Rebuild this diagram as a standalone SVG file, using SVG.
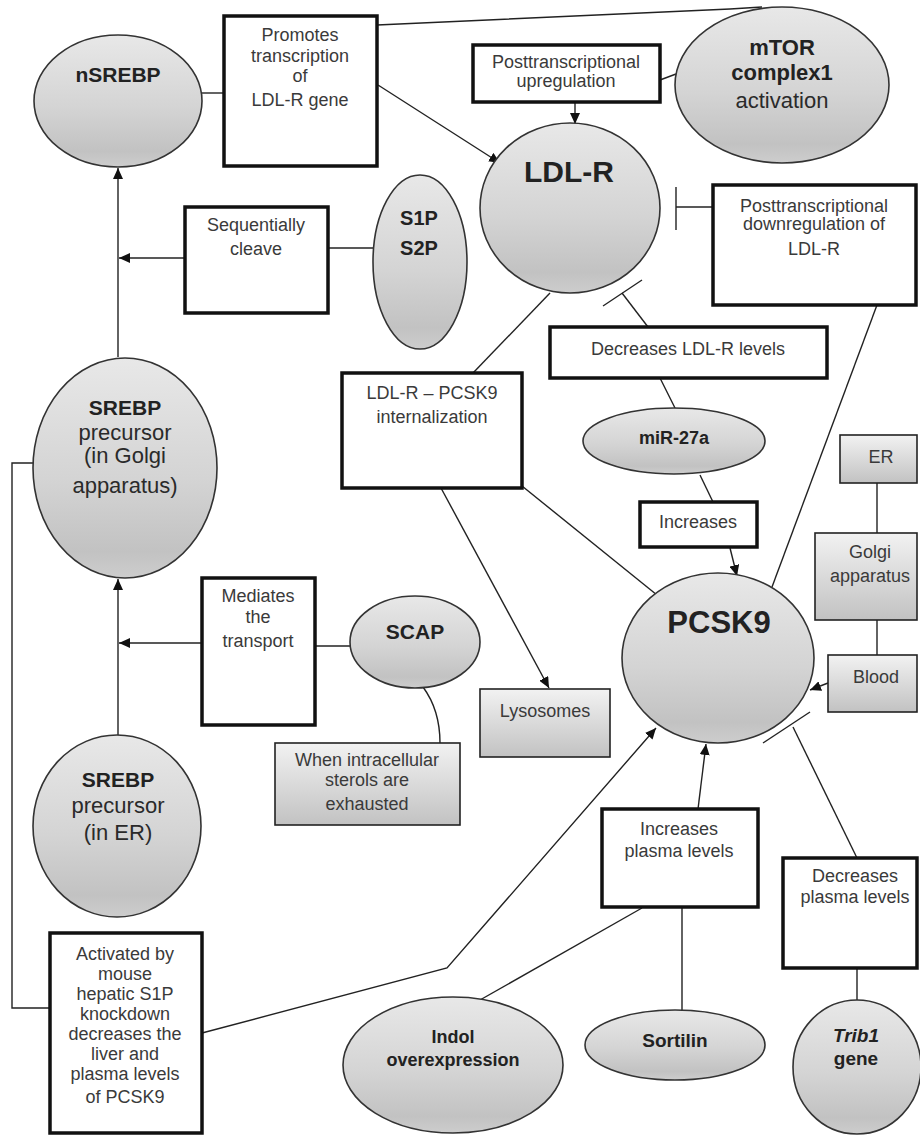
<svg xmlns="http://www.w3.org/2000/svg" width="920" height="1135" viewBox="0 0 920 1135">
<defs>
<linearGradient id="eg" x1="0" y1="0" x2="0" y2="1">
<stop offset="0" stop-color="#e8e8e8"/>
<stop offset="0.55" stop-color="#d4d4d4"/>
<stop offset="0.88" stop-color="#c2c2c2"/>
<stop offset="1" stop-color="#cdcdcd"/>
</linearGradient>
<linearGradient id="bg" x1="0" y1="0" x2="0" y2="1">
<stop offset="0" stop-color="#f2f2f2"/>
<stop offset="1" stop-color="#c2c2c2"/>
</linearGradient>
<marker id="ah" markerUnits="userSpaceOnUse" markerWidth="12" markerHeight="10" refX="11" refY="5" orient="auto">
<path d="M0,0 L11,5 L0,10 z" fill="#111"/>
</marker>
</defs>
<style>
.el{fill:url(#eg);stroke:#333;stroke-width:1.6}
.wb{fill:#fff;stroke:#111;stroke-width:3.5}
.gb{fill:url(#bg);stroke:#222;stroke-width:1.6}
.ln{fill:none;stroke:#222;stroke-width:1.4}
.ar{fill:none;stroke:#222;stroke-width:1.4;marker-end:url(#ah)}
.bt{font-family:"Liberation Sans",Arial,sans-serif;font-size:18px;fill:#3a3a3a;text-anchor:middle}
.et{font-family:"Liberation Sans",Arial,sans-serif;font-size:22px;fill:#2a2a2a;text-anchor:middle}
.eb{font-family:"Liberation Sans",Arial,sans-serif;font-weight:bold;fill:#222;text-anchor:middle}
</style>

<g id="connectors">
<line class="ln" x1="202" y1="93" x2="224" y2="93"/>
<polyline class="ln" points="377,25 730,9 762,7"/>
<line class="ar" x1="378" y1="85" x2="500" y2="163"/>
<line class="ar" x1="575" y1="102" x2="575" y2="124"/>
<line class="ln" x1="660" y1="80" x2="676" y2="74"/>
<line class="ln" x1="676" y1="207" x2="713" y2="207"/>
<line class="ln" x1="676" y1="187" x2="676" y2="230"/>
<line class="ln" x1="877" y1="305" x2="772" y2="587"/>
<line class="ln" x1="328" y1="248" x2="373" y2="248"/>
<line class="ar" x1="185" y1="258" x2="119" y2="258"/>
<line class="ar" x1="118" y1="357" x2="118" y2="168"/>
<polyline class="ln" points="36,463 12,463 12,1008 50,1008"/>
<line class="ar" x1="118" y1="735" x2="118" y2="579"/>
<line class="ar" x1="202" y1="643" x2="119" y2="643"/>
<line class="ln" x1="315" y1="646" x2="350" y2="646"/>
<path class="ln" d="M423,687 Q440,710 440,743"/>
<polyline class="ar" points="202,1033 447,968 656,728"/>
<line class="ln" x1="550" y1="293" x2="473" y2="373"/>
<line class="ar" x1="441" y1="488" x2="549" y2="688"/>
<line class="ln" x1="522" y1="486" x2="657" y2="595"/>
<line class="ln" x1="648" y1="327" x2="622" y2="293"/>
<line class="ln" x1="603" y1="306" x2="642" y2="280"/>
<line class="ln" x1="660" y1="378" x2="675" y2="408"/>
<line class="ln" x1="700" y1="475" x2="713" y2="502"/>
<line class="ar" x1="730" y1="548" x2="737" y2="576"/>
<line class="ln" x1="877" y1="483" x2="877" y2="533"/>
<line class="ln" x1="877" y1="620" x2="877" y2="655"/>
<line class="ar" x1="828" y1="683" x2="810" y2="690"/>
<line class="ln" x1="857" y1="858" x2="793" y2="727"/>
<line class="ln" x1="763" y1="743" x2="810" y2="712"/>
<line class="ar" x1="698" y1="809" x2="706" y2="744"/>
<line class="ln" x1="642" y1="908" x2="480" y2="1000"/>
<line class="ln" x1="682" y1="907" x2="682" y2="1011"/>
<line class="ln" x1="857" y1="968" x2="857" y2="1000"/>
</g>

<g id="nSREBP">
<ellipse class="el" cx="118" cy="101" rx="84" ry="66"/>
<text class="eb" x="118" y="82" font-size="21">nSREBP</text>
</g>

<g id="promotes">
<rect class="wb" x="224" y="16" width="153" height="150"/>
<text class="bt" x="300" y="41">Promotes</text>
<text class="bt" x="300" y="62">transcription</text>
<text class="bt" x="300" y="82">of</text>
<text class="bt" x="300" y="106">LDL-R gene</text>
</g>

<g id="upreg">
<rect class="wb" x="473" y="45" width="187" height="57"/>
<text class="bt" x="566" y="68">Posttranscriptional</text>
<text class="bt" x="566" y="87">upregulation</text>
</g>

<g id="mTOR">
<ellipse class="el" cx="782" cy="85" rx="107" ry="78"/>
<text class="eb" x="782" y="55" font-size="22">mTOR</text>
<text class="eb" x="782" y="80" font-size="22">complex1</text>
<text class="et" x="782" y="108">activation</text>
</g>

<g id="LDLR">
<ellipse class="el" cx="570" cy="208" rx="90" ry="85"/>
<text class="eb" x="569" y="182" font-size="30">LDL-R</text>
</g>

<g id="downreg">
<rect class="wb" x="713" y="185" width="203" height="120"/>
<text class="bt" x="814" y="212">Posttranscriptional</text>
<text class="bt" x="814" y="230">downregulation of</text>
<text class="bt" x="814" y="255">LDL-R</text>
</g>

<g id="cleave">
<rect class="wb" x="185" y="207" width="143" height="106"/>
<text class="bt" x="256" y="231">Sequentially</text>
<text class="bt" x="256" y="255">cleave</text>
</g>

<g id="S1PS2P">
<ellipse class="el" cx="420" cy="262" rx="47" ry="87"/>
<text class="eb" x="419" y="225" font-size="20">S1P</text>
<text class="eb" x="419" y="255" font-size="20">S2P</text>
</g>

<g id="SREBPGolgi">
<ellipse class="el" cx="125" cy="468" rx="92" ry="110"/>
<text class="eb" x="125" y="415" font-size="21">SREBP</text>
<text class="et" x="125" y="440">precursor</text>
<text class="et" x="125" y="463">(in Golgi</text>
<text class="et" x="125" y="493">apparatus)</text>
</g>

<g id="internalization">
<rect class="wb" x="342" y="373" width="180" height="115"/>
<text class="bt" x="432" y="399">LDL-R – PCSK9</text>
<text class="bt" x="432" y="423">internalization</text>
</g>

<g id="decLDLR">
<rect class="wb" x="550" y="327" width="277" height="51"/>
<text class="bt" x="688" y="355">Decreases LDL-R levels</text>
</g>

<g id="miR27a">
<ellipse class="el" cx="674" cy="441" rx="91" ry="33"/>
<text class="eb" x="674" y="444" font-size="18">miR-27a</text>
</g>

<g id="increases">
<rect class="wb" x="640" y="502" width="117" height="45"/>
<text class="bt" x="698" y="528">Increases</text>
</g>

<g id="ER">
<rect class="gb" x="840" y="435" width="77" height="48"/>
<text class="bt" x="881" y="463">ER</text>
</g>

<g id="Golgi">
<rect class="gb" x="815" y="533" width="102" height="87"/>
<text class="bt" x="870" y="558">Golgi</text>
<text class="bt" x="870" y="582">apparatus</text>
</g>

<g id="Blood">
<rect class="gb" x="828" y="655" width="89" height="57"/>
<text class="bt" x="876" y="683">Blood</text>
</g>

<g id="PCSK9">
<ellipse class="el" cx="718" cy="658" rx="96" ry="85"/>
<text class="eb" x="719" y="633" font-size="31">PCSK9</text>
</g>

<g id="mediates">
<rect class="wb" x="202" y="578" width="113" height="147"/>
<text class="bt" x="258" y="602">Mediates</text>
<text class="bt" x="258" y="623">the</text>
<text class="bt" x="258" y="647">transport</text>
</g>

<g id="SCAP">
<ellipse class="el" cx="415" cy="642" rx="65" ry="46"/>
<text class="eb" x="415" y="639" font-size="21">SCAP</text>
</g>

<g id="sterols">
<rect class="gb" x="275" y="743" width="185" height="82"/>
<text class="bt" x="367" y="766">When intracellular</text>
<text class="bt" x="367" y="786">sterols are</text>
<text class="bt" x="367" y="810">exhausted</text>
</g>

<g id="Lysosomes">
<rect class="gb" x="480" y="689" width="130" height="68"/>
<text class="bt" x="545" y="717">Lysosomes</text>
</g>

<g id="SREBPER">
<ellipse class="el" cx="117" cy="826" rx="84" ry="91"/>
<text class="eb" x="118" y="787" font-size="21">SREBP</text>
<text class="et" x="118" y="813">precursor</text>
<text class="et" x="118" y="840">(in ER)</text>
</g>

<g id="activated">
<rect class="wb" x="50" y="933" width="152" height="200"/>
<text class="bt" x="125" y="960">Activated by</text>
<text class="bt" x="125" y="980">mouse</text>
<text class="bt" x="125" y="1000">hepatic S1P</text>
<text class="bt" x="125" y="1020">knockdown</text>
<text class="bt" x="125" y="1040">decreases the</text>
<text class="bt" x="125" y="1060">liver and</text>
<text class="bt" x="125" y="1080">plasma levels</text>
<text class="bt" x="125" y="1103">of PCSK9</text>
</g>

<g id="incPlasma">
<rect class="wb" x="602" y="809" width="156" height="98"/>
<text class="bt" x="679" y="835">Increases</text>
<text class="bt" x="679" y="857">plasma levels</text>
</g>

<g id="decPlasma">
<rect class="wb" x="783" y="858" width="134" height="110"/>
<text class="bt" x="855" y="882">Decreases</text>
<text class="bt" x="855" y="903">plasma levels</text>
</g>

<g id="Indol">
<ellipse class="el" cx="453" cy="1065" rx="110" ry="68"/>
<text class="eb" x="453" y="1043" font-size="18">Indol</text>
<text class="eb" x="453" y="1066" font-size="18">overexpression</text>
</g>

<g id="Sortilin">
<ellipse class="el" cx="675" cy="1045" rx="90" ry="35"/>
<text class="eb" x="675" y="1047" font-size="19">Sortilin</text>
</g>

<g id="Trib1">
<ellipse class="el" cx="857" cy="1067" rx="64" ry="67"/>
<text class="eb" x="856" y="1042" font-size="19" font-style="italic">Trib1</text>
<text class="eb" x="856" y="1065" font-size="19">gene</text>
</g>
</svg>
